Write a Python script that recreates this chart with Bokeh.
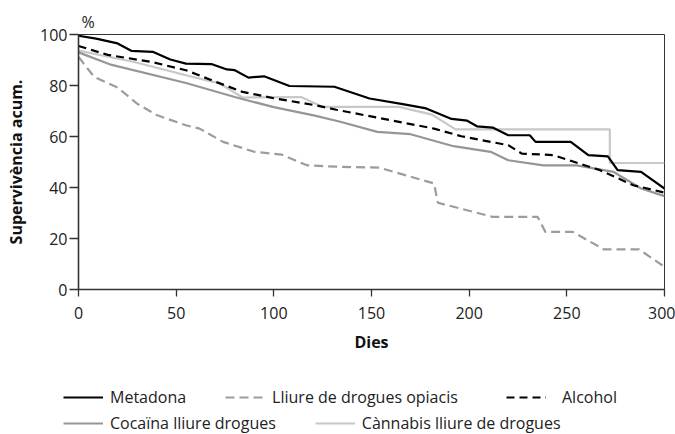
from bokeh.plotting import figure
from bokeh.models import Range1d, FixedTicker, Legend, LegendItem
from bokeh.layouts import column
from bokeh.embed import file_html
from bokeh.resources import INLINE

# ---- data (days, cumulative survival %) ----
metadona_d = [0, 9, 20, 27, 38, 47, 55, 68, 76, 80, 87, 95, 108, 131, 149, 166, 178, 191, 199, 204, 212, 220, 231, 234, 252, 261, 271, 276, 288, 300]
metadona_v = [99.5, 98.4, 96.5, 93.6, 93.2, 90.2, 88.6, 88.4, 86.3, 86.0, 83.1, 83.6, 79.8, 79.5, 74.9, 72.7, 71.0, 66.9, 66.2, 64.0, 63.5, 60.5, 60.5, 57.9, 57.9, 52.7, 52.2, 46.8, 46.1, 39.6]

opiacis_d = [0, 8, 20, 30, 40, 55, 62, 74, 90, 104, 117, 134, 154, 182, 184, 212, 235, 239, 253, 269, 287, 300]
opiacis_v = [91.2, 83.4, 79.2, 72.9, 68.4, 64.4, 63.1, 57.9, 54.0, 52.9, 48.7, 48.1, 47.8, 41.6, 34.0, 28.5, 28.5, 22.6, 22.6, 15.7, 15.7, 8.9]

alcohol_d = [0, 15, 37, 55, 70, 84, 100, 121, 132, 182, 196, 220, 227, 243, 267, 284, 300]
alcohol_v = [95.5, 92.0, 89.3, 86.0, 81.5, 77.5, 75.0, 72.3, 70.5, 63.1, 60.1, 56.6, 53.3, 52.7, 46.8, 40.9, 38.0]

cocaina_d = [0, 16, 55, 80, 100, 121, 134, 153, 170, 192, 211, 220, 238, 255, 274, 288, 300]
cocaina_v = [93.0, 88.3, 81.0, 75.5, 71.5, 68.2, 65.8, 61.8, 60.9, 56.2, 54.0, 50.7, 48.7, 48.7, 46.1, 39.6, 36.6]

cannabis_d = [0, 28, 55, 69, 72, 84, 114, 125, 164, 181, 193, 272, 272, 300]
cannabis_v = [93.7, 89.3, 84.0, 81.4, 81.0, 75.3, 75.5, 71.6, 71.6, 68.6, 62.8, 62.8, 49.6, 49.6]

x_ticks = [0, 50, 100, 150, 200, 250, 300]
y_ticks = [0, 20, 40, 60, 80, 100]

labels = ["Metadona", "Lliure de drogues opiacis", "Alcohol",
          "Cocaïna lliure drogues", "Cànnabis lliure de drogues"]

FONT = "Open Sans"
TXT = "#222222"

styles = {
    "met": dict(line_color="#000000", line_width=2.2),
    "opi": dict(line_color="#9c9c9c", line_width=2.2, line_dash="9 5"),
    "alc": dict(line_color="#000000", line_width=2.2, line_dash="8 5"),
    "coca": dict(line_color="#969696", line_width=2.2),
    "cann": dict(line_color="#c8c8c8", line_width=2.2),
}

p = figure(width=675, height=355, x_range=Range1d(0, 300), y_range=Range1d(0, 100),
           output_backend="svg", toolbar_location=None,
           min_border_left=78, min_border_right=11, min_border_top=34, min_border_bottom=66)
p.frame_align = False

p.xgrid.visible = False
p.ygrid.visible = False
p.outline_line_color = "#333333"
p.outline_line_width = 1
p.background_fill_color = "white"
p.border_fill_color = "white"

p.title.text = "%"
p.title.align = "left"
p.title.offset = 3
p.title.standoff = 4
p.title.text_font = FONT
p.title.text_font_size = "16px"
p.title.text_font_style = "normal"
p.title.text_color = TXT

for ax in (p.xaxis[0], p.yaxis[0]):
    ax.axis_line_color = "#333333"
    ax.axis_line_width = 1.6
    ax.major_tick_line_color = "#333333"
    ax.major_tick_line_width = 1.3
    ax.major_tick_in = 0
    ax.minor_tick_line_color = None
    ax.major_label_text_font = FONT
    ax.major_label_text_font_size = "16px"
    ax.major_label_text_color = TXT
    ax.axis_label_text_font = FONT
    ax.axis_label_text_font_size = "16px"
    ax.axis_label_text_font_style = "bold"
    ax.axis_label_text_color = "#111111"

p.xaxis[0].ticker = FixedTicker(ticks=x_ticks)
p.yaxis[0].ticker = FixedTicker(ticks=y_ticks)
p.xaxis[0].major_tick_out = 7
p.xaxis[0].major_label_standoff = 10
p.xaxis[0].axis_label = "Dies"
p.xaxis[0].axis_label_standoff = 9
p.yaxis[0].major_tick_out = 9
p.yaxis[0].major_label_standoff = 2
p.yaxis[0].axis_label = "Supervivència acum."
p.yaxis[0].axis_label_standoff = 10

p.line(cannabis_d, cannabis_v, **styles["cann"])
p.line(cocaina_d, cocaina_v, **styles["coca"])
p.line(opiacis_d, opiacis_v, **styles["opi"])
p.line(alcohol_d, alcohol_v, **styles["alc"])
p.line(metadona_d, metadona_v, **styles["met"])

# ---- legend strip below the chart (legend keys only, no data drawn) ----
q = figure(width=675, height=79, x_range=Range1d(0, 1), y_range=Range1d(0, 1),
           output_backend="svg", toolbar_location=None,
           x_axis_type=None, y_axis_type=None, min_border=0)
q.frame_align = False
q.xgrid.visible = False
q.ygrid.visible = False
q.outline_line_color = None
q.border_fill_color = "white"
q.background_fill_color = "white"

nan = float("nan")
k_met = q.line([nan], [nan], **styles["met"])
k_opi = q.line([nan], [nan], **styles["opi"])
k_alc = q.line([nan], [nan], **styles["alc"])
k_coca = q.line([nan], [nan], **styles["coca"])
k_cann = q.line([nan], [nan], **styles["cann"])

def make_legend(items, loc, standoff=7):
    return Legend(items=items, location=loc, orientation="horizontal",
                  padding=0, margin=0, spacing=39, glyph_width=40, glyph_height=16,
                  label_height=16, label_standoff=standoff, label_text_font=FONT,
                  label_text_font_size="16px", label_text_color=TXT,
                  background_fill_alpha=0, border_line_alpha=0)

q.add_layout(make_legend([LegendItem(label=labels[0], renderers=[k_met]),
                          LegendItem(label=labels[1], renderers=[k_opi])], (63, 26)))
q.add_layout(make_legend([LegendItem(label=labels[2], renderers=[k_alc])], (506, 26), standoff=16))
q.add_layout(make_legend([LegendItem(label=labels[3], renderers=[k_coca]),
                          LegendItem(label=labels[4], renderers=[k_cann])], (63, 0)))

layout = column(p, q, spacing=0)
open("out.html", "w").write(file_html(layout, INLINE))
